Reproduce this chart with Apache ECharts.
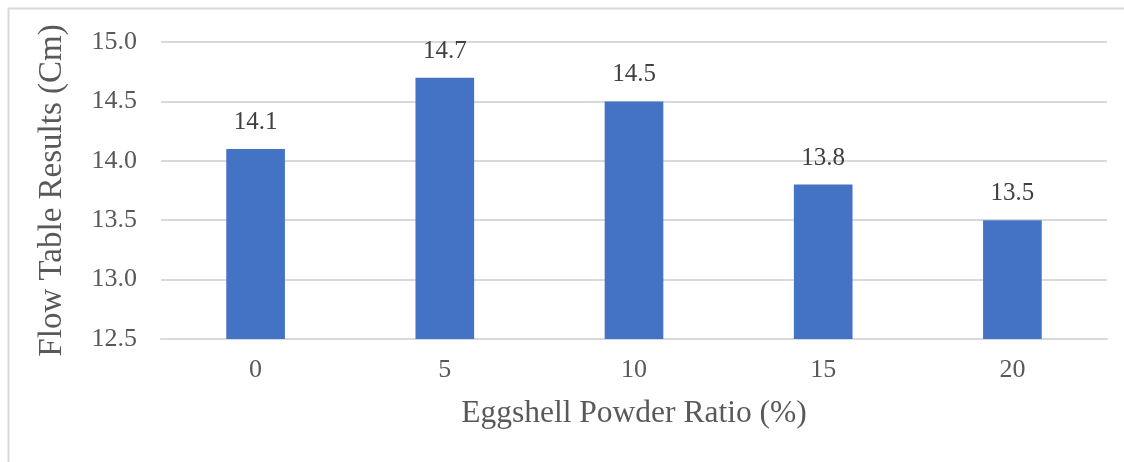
<!DOCTYPE html>
<html>
<head>
<meta charset="utf-8">
<script src="https://cdn.jsdelivr.net/npm/echarts@6/dist/echarts.min.js"></script>
<style>
  html, body { margin: 0; padding: 0; background: #ffffff; }
  #chart { width: 1124px; height: 462px; }
</style>
</head>
<body>
<div id="chart"></div>
<script>
// Eggshell powder ratio (%) on the category axis
const categories = ['0', '5', '10', '15', '20'];
// Flow table results (cm) for each mix
const flowValues = [14.1, 14.7, 14.5, 13.8, 13.5];
// Value axis range and step
const yMin = 12.5;
const yMax = 15.0;
const yStep = 0.5;

const textColor = '#595959';
const gridColor = '#d9d9d9';
const fontFamily = '"Liberation Serif", "Times New Roman", serif';

const chart = echarts.init(document.getElementById('chart'), null, { renderer: 'canvas' });

chart.setOption({
  backgroundColor: '#ffffff',
  animation: false,
  textStyle: { fontFamily: fontFamily },
  graphic: [{
    type: 'rect',
    shape: { x: 8.5, y: 8.5, width: 1300, height: 600 },
    style: { fill: 'none', stroke: gridColor, lineWidth: 2 },
    silent: true,
    z: -1
  }],
  grid: { left: 161, right: 17, top: 42, bottom: 123 },
  xAxis: {
    type: 'category',
    data: categories,
    name: 'Eggshell Powder Ratio (%)',
    nameLocation: 'middle',
    nameGap: 59,
    nameTextStyle: { color: textColor, fontSize: 31.5, fontFamily: fontFamily },
    axisLine: { show: true, lineStyle: { color: gridColor, width: 2 } },
    axisTick: { show: false },
    axisLabel: { color: textColor, fontSize: 26, fontFamily: fontFamily, margin: 18 }
  },
  yAxis: {
    type: 'value',
    min: yMin,
    max: yMax,
    interval: yStep,
    name: 'Flow Table Results (Cm)',
    nameLocation: 'middle',
    nameGap: 92,
    nameTextStyle: { color: textColor, fontSize: 33, fontFamily: fontFamily },
    axisLine: { show: false },
    axisTick: { show: false },
    splitLine: { show: true, lineStyle: { color: gridColor, width: 2 } },
    axisLabel: {
      color: textColor, fontSize: 26, fontFamily: fontFamily, margin: 24,
      formatter: v => v.toFixed(1)
    }
  },
  series: [{
    type: 'bar',
    data: flowValues,
    barWidth: '31%',
    itemStyle: { color: '#4472c4' },
    label: {
      show: true,
      position: 'top',
      distance: 14,
      color: '#404040',
      fontSize: 25,
      fontFamily: fontFamily,
      formatter: p => p.value.toFixed(1)
    }
  }]
});
</script>
</body>
</html>
